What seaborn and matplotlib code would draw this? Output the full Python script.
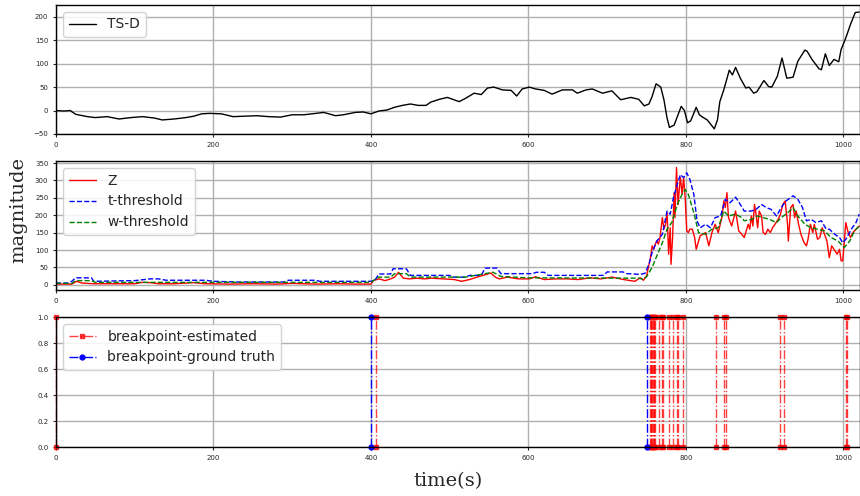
import numpy as np
import pandas as pd
import matplotlib
matplotlib.use("Agg")
import matplotlib.pyplot as plt
import seaborn as sns

# ---- data ----
# top panel: TS-D series
ts_t = [0, 10, 18, 25, 40, 50, 65, 80, 95, 110, 125, 135, 150, 165, 175, 185, 195, 210, 225, 240,
        255, 270, 285, 300, 315, 330, 340, 355, 365, 380, 390, 400, 410, 420, 430, 440, 450, 460, 470,
        476, 487, 497, 512, 520, 531, 540, 548, 556, 567, 578, 585, 592, 601, 609, 620, 630, 643, 656,
        662, 673, 681, 694, 706, 717, 730, 740, 747, 753, 757, 762, 768, 772, 776, 779, 785, 789, 794,
        798, 802, 806, 813, 817, 821, 827, 836, 840, 843, 848, 855, 859, 863, 869, 876, 880, 886, 890,
        899, 905, 909, 916, 922, 928, 936, 942, 951, 954, 960, 969, 972, 977, 982, 988, 994, 997, 1003,
        1009, 1015, 1020]
ts_v = [0, -1, 0, -8, -13, -15, -13, -18, -15, -13, -16, -20, -18, -15, -12, -7, -6, -7, -13, -12,
        -11, -13, -14, -9, -9, -6, -4, -11, -9, -4, -3, -7, -1, 1, 7, 11, 14, 11, 11,
        18, 24, 28, 19, 26, 37, 34, 48, 50, 44, 43, 31, 46, 50, 46, 43, 35, 44, 44,
        37, 44, 46, 37, 42, 23, 28, 24, 10, 14, 30, 57, 50, 23, -16, -36, -31, -13, 9,
        0, -26, -22, 7, -9, -14, -20, -39, -20, 19, 44, 86, 76, 92, 69, 48, 50, 37, 40,
        64, 51, 50, 73, 112, 69, 71, 105, 129, 126, 109, 89, 87, 121, 96, 109, 104, 130, 155,
        184, 209, 210]

# middle panel: Z, t-threshold, w-threshold
z_t = [0, 20, 26, 33, 48, 80, 100, 110, 120, 130, 150, 175, 190, 220, 250, 280, 300, 330, 360, 380,
       400, 403, 410, 418, 425, 430, 435, 441, 449, 458, 468, 477, 492, 506, 515, 525, 539, 547, 552,
       558, 563, 573, 587, 601, 609, 620, 635, 649, 663, 678, 692, 706, 721, 735, 742, 746, 750, 755,
       757, 759, 761, 763, 765, 767, 770, 772, 774, 776, 778, 780, 781, 783, 785, 786, 788, 790, 792,
       793, 795, 797, 799, 801, 803, 805, 808, 811, 813, 816, 818, 821, 825, 829, 833, 837, 841, 846,
       848, 850, 852, 854, 858, 863, 867, 871, 874, 879, 881, 883, 885, 887, 889, 891, 893, 896, 898,
       901, 904, 907, 910, 913, 917, 920, 923, 926, 929, 930, 933, 936, 938, 940, 943, 946, 950, 953,
       955, 958, 961, 963, 967, 970, 973, 976, 979, 982, 985, 989, 992, 995, 997, 999, 1001, 1003,
       1006, 1009, 1012, 1016, 1020]
z_v = [2, 2, 10, 5, 3, 3, 3, 7, 6, 3, 3, 6, 3, 2, 3, 2, 4, 2, 3, 2,
       2, 12, 17, 12, 17, 22, 36, 19, 17, 19, 17, 19, 17, 15, 10, 15, 25, 30, 34,
       22, 17, 22, 17, 17, 23, 15, 17, 17, 15, 20, 17, 22, 15, 10, 20, 13, 26, 78,
       112, 102, 117, 126, 117, 136, 193, 160, 174, 207, 88, 164, 59, 136, 265, 193, 337, 231, 289,
       308, 260, 308, 250, 155, 150, 160, 160, 136, 102, 126, 141, 145, 150, 112, 150, 174, 150, 198,
       241, 222, 265, 193, 169, 212, 155, 145, 136, 174, 160, 198, 169, 231, 203, 164, 212, 198, 150,
       145, 160, 150, 164, 174, 188, 203, 231, 241, 174, 126, 222, 231, 193, 212, 174, 145, 121, 112,
       131, 174, 150, 174, 131, 136, 164, 145, 126, 78, 112, 98, 88, 102, 69, 69, 121, 179,
       150, 136, 150, 160, 169]

tt_t = [0, 15, 20, 25, 45, 48, 100, 120, 130, 140, 190, 200, 230, 290, 295, 330, 335, 400, 405, 410,
        425, 428, 445, 450, 500, 505, 520, 525, 540, 545, 560, 565, 605, 610, 620, 625, 695, 700, 720,
        725, 742, 748, 753, 757, 763, 770, 776, 780, 784, 789, 793, 797, 801, 805, 810, 814, 818, 825,
        831, 837, 844, 850, 856, 863, 869, 874, 883, 889, 896, 902, 908, 915, 921, 927, 936, 942, 948,
        953, 959, 965, 972, 978, 982, 989, 995, 999, 1003, 1010, 1016, 1020]
tt_v = [5, 5, 10, 20, 20, 10, 12, 17, 17, 13, 13, 10, 8, 8, 13, 13, 10, 10, 13, 31,
        31, 46, 46, 27, 27, 22, 22, 27, 27, 48, 48, 32, 32, 36, 36, 27, 27, 37, 37,
        32, 30, 33, 59, 93, 126, 145, 212, 203, 250, 289, 317, 308, 322, 303, 260, 184, 164, 174,
        164, 193, 198, 246, 236, 252, 231, 212, 212, 217, 231, 222, 217, 198, 222, 241, 256, 246, 222,
        184, 188, 179, 184, 160, 160, 145, 136, 121, 131, 160, 179, 203]

wt_t = [0, 20, 25, 45, 50, 400, 405, 410, 425, 430, 445, 450, 520, 540, 555, 565, 600, 740, 746, 750,
        757, 763, 770, 776, 782, 789, 795, 799, 803, 810, 816, 825, 833, 841, 848, 854, 863, 871, 874,
        883, 891, 898, 906, 915, 921, 929, 936, 942, 951, 959, 967, 976, 984, 993, 1001, 1008, 1014, 1020]
wt_v = [4, 4, 12, 12, 7, 7, 15, 22, 22, 32, 32, 22, 22, 30, 36, 24, 20, 19, 16, 23,
        50, 83, 121, 160, 179, 231, 260, 274, 260, 207, 150, 145, 160, 164, 212, 198, 203, 193, 184,
        188, 198, 193, 188, 179, 193, 207, 222, 198, 174, 164, 160, 155, 136, 126, 107, 126, 155, 169]

# bottom panel: breakpoints
bp_estimated = [0, 407, 754, 755, 756, 757, 758, 759, 760, 761, 766, 769, 771, 778, 783, 788, 790, 796,
                838, 848, 851, 919, 925, 1003, 1005]
bp_truth = [400, 750]

# ---- style ----
sns.set_style("ticks", {"axes.grid": True, "grid.color": "#b0b0b0", "axes.edgecolor": "black",
                        "grid.linestyle": "-"})
plt.rcParams["font.family"] = ["DejaVu Sans"]
plt.rcParams["xtick.labelsize"] = 5
plt.rcParams["ytick.labelsize"] = 5
plt.rcParams["xtick.major.size"] = 2
plt.rcParams["ytick.major.size"] = 2

fig = plt.figure(figsize=(8.6, 4.96), dpi=100)
W = 804 / 860
ax1 = fig.add_axes([56 / 860, 1 - 134 / 496, W, 129 / 496])
ax2 = fig.add_axes([56 / 860, 1 - 290 / 496, W, 129 / 496])
ax3 = fig.add_axes([56 / 860, 1 - 447 / 496, W, 130 / 496])

top = pd.DataFrame({"t": ts_t, "v": ts_v})
sns.lineplot(data=top, x="t", y="v", ax=ax1, color="black", lw=1, label="TS-D")

sns.lineplot(x=z_t, y=z_v, ax=ax2, color="red", lw=1, label="Z")
sns.lineplot(x=tt_t, y=tt_v, ax=ax2, color="blue", lw=1, linestyle="--", label="t-threshold")
sns.lineplot(x=wt_t, y=wt_v, ax=ax2, color="green", lw=1, linestyle="--", label="w-threshold")

for i, b in enumerate(bp_estimated):
    ax3.plot([b, b], [0, 1], "r-.s", lw=1, ms=3.5, alpha=0.75, clip_on=False,
             label="breakpoint-estimated" if i == 0 else None)
for i, b in enumerate(bp_truth):
    ax3.plot([b, b], [0, 1], "b-.o", lw=1, ms=3.5, clip_on=False,
             label="breakpoint-ground truth" if i == 0 else None)

xt = [0, 200, 400, 600, 800, 1000]
for ax in (ax1, ax2, ax3):
    ax.set_xlim(0, 1021)
    ax.set_xticks(xt)
    ax.set_xlabel("")
    ax.set_ylabel("")
    ax.grid(True, color="#b0b0b0", lw=1)
    for s in ax.spines.values():
        s.set_linewidth(1)
    ax.legend(loc="upper left", fontsize=10, frameon=True, fancybox=True, framealpha=0.85,
              borderaxespad=0.5)

ax1.set_ylim(-50, 225)
ax1.set_yticks([-50, 0, 50, 100, 150, 200])
ax2.set_ylim(-15, 356)
ax2.set_yticks([0, 50, 100, 150, 200, 250, 300, 350])
ax3.set_ylim(0, 1)
ax3.set_yticks([0, 0.2, 0.4, 0.6, 0.8, 1.0])
ax3.set_yticklabels(["0.0", "0.2", "0.4", "0.6", "0.8", "1.0"])

fig.text(18 / 860, 1 - 210 / 496, "magnitude", rotation=90, va="center", ha="center",
         family="DejaVu Serif", fontsize=14)
fig.text(448 / 860, 1 - 481 / 496, "time(s)", va="center", ha="center",
         family="DejaVu Serif", fontsize=14)

fig.savefig("out.png", dpi=100)
